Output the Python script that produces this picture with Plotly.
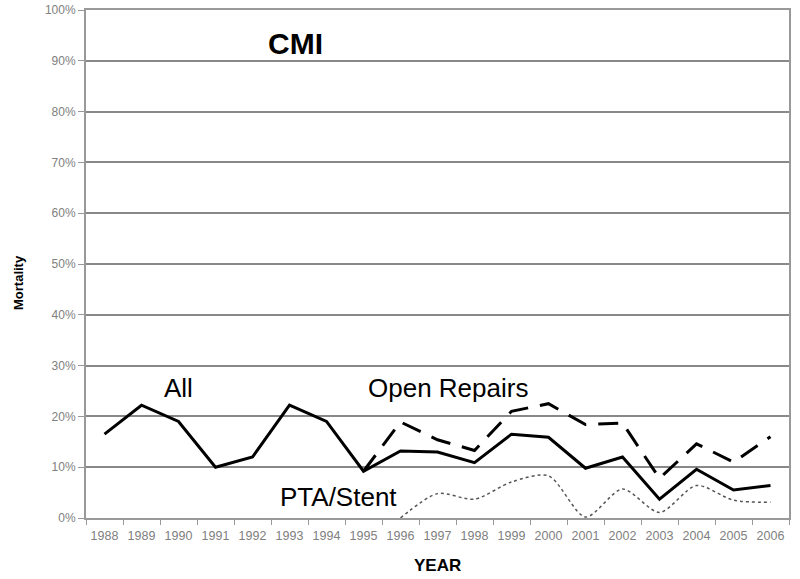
import plotly.graph_objects as go

years = [str(y) for y in range(1988, 2007)]
all_vals = [16.5, 22.2, 19.0, 10.0, 12.0, 22.2, 19.0, 9.2, 13.2, 13.0, 10.9, 16.5, 15.9, 9.8, 12.0, 3.7, 9.6, 5.5, 6.4]
open_years = [str(y) for y in range(1995, 2007)]
open_vals = [9.2, 18.9, 15.4, 13.3, 21.0, 22.5, 18.4, 18.7, 7.8, 14.6, 11.0, 16.0]
pta_years = [str(y) for y in range(1996, 2007)]
pta_vals = [0.0, 4.8, 3.7, 7.1, 8.3, 0.2, 5.7, 1.1, 6.4, 3.5, 3.1]
y_ticks = [0, 10, 20, 30, 40, 50, 60, 70, 80, 90, 100]

fig = go.Figure()
fig.add_trace(go.Scatter(x=pta_years, y=pta_vals, mode="lines",
                         line=dict(color="#555555", width=1.5, dash="dot", shape="spline", smoothing=0.8)))
fig.add_trace(go.Scatter(x=open_years, y=open_vals, mode="lines",
                         line=dict(color="black", width=3, dash="20px,12px")))
fig.add_trace(go.Scatter(x=years, y=all_vals, mode="lines",
                         line=dict(color="black", width=3)))

W, H = 800, 579
L, R, T, B = 86, 11, 10, 61
pw, ph = W - L - R, H - T - B

def px(xp):
    return (xp - L) / pw

def py(yp):
    return (H - B - yp) / ph

font = "Liberation Sans, Arial, sans-serif"
anns = [
    dict(text="<b>CMI</b>", x=px(295), y=py(44), font=dict(size=30, color="black", family=font)),
    dict(text="All", x=px(178), y=py(388), font=dict(size=26, color="black", family=font)),
    dict(text="Open Repairs", x=px(448), y=py(388), font=dict(size=26, color="black", family=font)),
    dict(text="PTA/Stent", x=px(338), y=py(497), font=dict(size=26, color="black", family=font)),
    dict(text="<b>Mortality</b>", x=px(19), y=py(283), textangle=-90, font=dict(size=13, color="black", family=font)),
    dict(text="<b>YEAR</b>", x=px(437), y=py(565), font=dict(size=17, color="black", family=font)),
]
for a in anns:
    a.update(xref="paper", yref="paper", showarrow=False, xanchor="center", yanchor="middle")

fig.update_layout(
    width=W, height=H, margin=dict(l=L, r=R, t=T, b=B),
    paper_bgcolor="white", plot_bgcolor="white", showlegend=False,
    font=dict(family=font),
    annotations=anns,
)
fig.update_xaxes(type="category", categoryorder="array", categoryarray=years, automargin=False,
                 range=[-0.5, len(years) - 0.5], tickangle=0,
                 showgrid=False, showline=True, linecolor="#999999", linewidth=2, mirror=True,
                 ticks="outside", tickson="boundaries", ticklen=5, tickcolor="#999999",
                 ticklabelstandoff=5,
                 tickfont=dict(size=12.5, color="#808080", family=font))
fig.update_yaxes(range=[0, 100], tickvals=y_ticks, ticktext=[f"{v}%" for v in y_ticks], automargin=False,
                 showgrid=True, gridcolor="#888888", gridwidth=1.5,
                 showline=True, linecolor="#999999", linewidth=2, mirror=True,
                 ticks="outside", ticklen=6, tickcolor="#999999", zeroline=False,
                 tickfont=dict(size=12, color="#808080", family=font))

fig.write_html("out.html", config={"displayModeBar": False},
               post_script="document.body.style.margin='0';document.body.style.overflow='hidden';")
